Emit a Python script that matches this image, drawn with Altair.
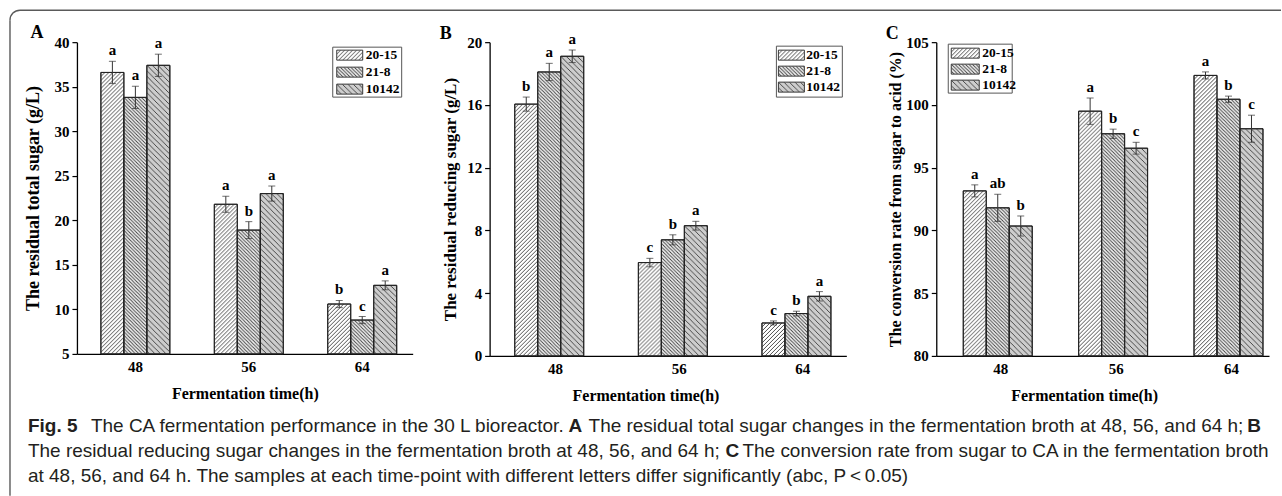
import base64
import altair as alt
import pandas as pd

times = ["48", "56", "64"]
strains = ["20-15", "21-8", "10142"]

# Panel A: residual total sugar (g/L)
a_mean_20_15 = [36.6, 21.8, 10.6]
a_mean_21_8 = [33.8, 18.9, 8.8]
a_mean_10142 = [37.4, 23.0, 12.7]
a_err_20_15 = [1.25, 0.9, 0.4]
a_err_21_8 = [1.25, 0.95, 0.4]
a_err_10142 = [1.25, 0.85, 0.5]
a_let_20_15 = ["a", "a", "b"]
a_let_21_8 = ["a", "b", "c"]
a_let_10142 = ["a", "a", "a"]

# Panel B: residual reducing sugar (g/L)
b_mean_20_15 = [16.05, 5.95, 2.1]
b_mean_21_8 = [18.1, 7.4, 2.7]
b_mean_10142 = [19.1, 8.3, 3.8]
b_err_20_15 = [0.45, 0.27, 0.13]
b_err_21_8 = [0.55, 0.32, 0.15]
b_err_10142 = [0.4, 0.28, 0.3]
b_let_20_15 = ["b", "c", "c"]
b_let_21_8 = ["a", "b", "b"]
b_let_10142 = ["a", "a", "a"]

# Panel C: conversion rate from sugar to acid (%)
c_mean_20_15 = [93.15, 99.5, 102.35]
c_mean_21_8 = [91.8, 97.7, 100.45]
c_mean_10142 = [90.35, 96.55, 98.1]
c_err_20_15 = [0.48, 1.05, 0.28]
c_err_21_8 = [1.08, 0.37, 0.25]
c_err_10142 = [0.8, 0.47, 1.08]
c_let_20_15 = ["a", "a", "a"]
c_let_21_8 = ["ab", "b", "b"]
c_let_10142 = ["b", "c", "c"]

x_title = "Fermentation time(h)"
caption_l1 = ["Fig. 5", "The CA fermentation performance in the 30 L bioreactor.", "A",
              "The residual total sugar changes in the fermentation broth at 48, 56, and 64 h;", "B"]
caption_l2 = ["The residual reducing sugar changes in the fermentation broth at 48, 56, and 64 h;", "C",
              "The conversion rate from sugar to CA in the fermentation broth"]
caption_l3 = ["at 48, 56, and 64 h. The samples at each time-point with different letters differ significantly (abc, P\u2009<\u20090.05)"]

SERIF = "Liberation Serif"
SANS = "Liberation Sans"
fills = ["#ffffff", "#f4f4f4", "#cdcdcd"]


def hatch_uri(direction, s, color="#3a3a3a", w=0.9):
    if direction == "/":
        d = f"M0,{s} L{s},0 M{-s/2},{s/2} L{s/2},{-s/2} M{s/2},{1.5*s} L{1.5*s},{s/2}"
    else:
        d = f"M0,0 L{s},{s} M{-s/2},{s/2} L{s/2},{1.5*s} M{s/2},{-s/2} L{1.5*s},{s/2}"
    svg = ("<svg xmlns='http://www.w3.org/2000/svg' width='100%' height='100%'>"
           f"<defs><pattern id='h' patternUnits='userSpaceOnUse' width='{s}' height='{s}'>"
           f"<path d='{d}' stroke='{color}' stroke-width='{w}' fill='none'/></pattern></defs>"
           "<rect width='100%' height='100%' fill='url(#h)'/></svg>")
    return "data:image/svg+xml;base64," + base64.b64encode(svg.encode()).decode()


uris = [hatch_uri("/", 4), hatch_uri("\\", 3.5), hatch_uri("\\", 5.5)]


def make_df(means, errs, lets):
    rows = []
    for s, m, e, l in zip(strains, means, errs, lets):
        for t, mv, ev, lv in zip(times, m, e, l):
            rows.append({"time": t, "strain": s, "mean": mv, "err": ev, "letter": lv})
    return pd.DataFrame(rows)


def frange(a, b, step):
    out = []
    v = a
    while v <= b + 1e-9:
        out.append(round(v, 2))
        v += step
    return out


def caption_layers():
    # coordinates are page pixels, shifted to panel A's plot origin at page (77, 42)
    OX, OY = 77, 42
    one = pd.DataFrame({"k": [0]})
    out = []
    out.append(alt.Chart(one).mark_rect(opacity=0).encode(
        x=alt.value(-OX), x2=alt.value(1282 - OX), y=alt.value(-OY), y2=alt.value(496 - OY)))
    border = "#5a5a5a"
    out.append(alt.Chart(one).mark_rule(color=border, strokeWidth=1.4).encode(
        x=alt.value(20 - OX), x2=alt.value(1282 - OX), y=alt.value(10 - OY)))
    out.append(alt.Chart(one).mark_rule(color=border, strokeWidth=1.4).encode(
        x=alt.value(10 - OX), y=alt.value(20 - OY), y2=alt.value(496 - OY)))
    out.append(alt.Chart(one).mark_arc(theta=4.7124, theta2=6.2832, radius=10, radius2=10,
                                       fillOpacity=0, stroke=border, strokeWidth=1.4).encode(
        x=alt.value(20 - OX), y=alt.value(20 - OY)))
    txtcol = "#231f20"
    segs = [
        (caption_l1[0], 28, 426, "bold", "left"),
        (caption_l1[1], 91, 426, "normal", "left"),
        (caption_l1[2], 569, 426, "bold", "left"),
        (caption_l1[3], 589, 426, "normal", "left"),
        (caption_l1[4], 1262, 426, "bold", "right"),
        (caption_l2[0], 28, 451, "normal", "left"),
        (caption_l2[1], 726, 451, "bold", "left"),
        (caption_l2[2], 743, 451, "normal", "left"),
        (caption_l3[0], 28, 476, "normal", "left"),
    ]
    for t, px, py, wgt, al in segs:
        out.append(alt.Chart(pd.DataFrame({"t": [t]})).mark_text(
            font=SANS, fontSize=19, fontWeight=wgt, color=txtcol, align=al, baseline="middle").encode(
            x=alt.value(px - OX), y=alt.value(py - OY), text="t:N"))
    return out


def panel(df, cfg, extra=()):
    base = alt.Chart(df).transform_calculate(
        lo="datum.mean - datum.err", hi="datum.mean + datum.err")
    major = cfg["major"]
    xax = alt.Axis(labelAngle=0, ticks=False, tickSize=0, domainColor="black", domainWidth=1.3,
                   labelFont=SERIF, labelFontWeight="bold", labelFontSize=15, labelColor="black",
                   labelPadding=6, titleFont=SERIF, titleFontWeight="bold", titleFontSize=16,
                   titleColor="black", titleX=cfg["xtx"], titleY=40, titleBaseline="middle")
    yax = alt.Axis(values=cfg["yvals"], grid=False, labelOverlap=False,
                   labelExpr=f"datum.value % {major} === 0 ? datum.label : ''",
                   tickSize={"condition": {"test": f"datum.value % {major} === 0", "value": 5}, "value": 3},
                   domainColor="black", tickColor="black", domainWidth=1.3, tickWidth=1.2,
                   labelFont=SERIF, labelFontWeight="bold", labelFontSize=15, labelColor="black",
                   labelPadding=3, titleFont=SERIF, titleFontWeight="bold",
                   titleFontSize=cfg["ytfs"], titleColor="black", titleX=cfg["ytx"],
                   titleBaseline="middle")
    x = alt.X("time:N", sort=times, title=x_title,
              scale=alt.Scale(paddingInner=cfg["pi"], paddingOuter=cfg["po"], align=cfg["al"]),
              axis=xax)
    xs = alt.X("time:N", sort=times)
    xo = alt.XOffset("strain:N", sort=strains,
                     scale=alt.Scale(domain=strains, paddingInner=0, paddingOuter=0))
    y = alt.Y("mean:Q", title=cfg["ytitle"],
              scale=alt.Scale(domain=cfg["dom"], nice=False, zero=False), axis=yax)
    ybase = alt.datum(cfg["dom"][0])

    layers = []
    layers.append(base.mark_bar(stroke="#222222", strokeWidth=1).encode(
        x=x, xOffset=xo, y=y, y2=ybase,
        color=alt.Color("strain:N", scale=alt.Scale(domain=strains, range=fills), legend=None)))
    for s, u in zip(strains, uris):
        layers.append(base.transform_filter(alt.datum.strain == s).mark_image(aspect=False).encode(
            x=xs, xOffset=xo, y=alt.Y("mean:Q"), y2=ybase, url=alt.value(u)))
    layers.append(base.mark_bar(fillOpacity=0, stroke="#222222", strokeWidth=1).encode(
        x=xs, xOffset=xo, y=alt.Y("mean:Q"), y2=ybase))
    layers.append(base.mark_rule(color="#333333", strokeWidth=1).encode(
        x=xs, xOffset=xo, y=alt.Y("lo:Q"), y2="hi:Q"))
    layers.append(base.mark_tick(color="#333333", thickness=1, size=7).encode(
        x=xs, xOffset=xo, y=alt.Y("hi:Q")))
    layers.append(base.mark_tick(color="#333333", thickness=1, size=7).encode(
        x=xs, xOffset=xo, y=alt.Y("lo:Q")))
    layers.append(base.mark_text(font=SERIF, fontWeight="bold", fontSize=15, color="black",
                                 baseline="bottom", dy=-3).encode(
        x=xs, xOffset=xo, y=alt.Y("hi:Q"), text="letter:N"))

    # panel letter
    lx, ly = cfg["letter_pos"]
    layers.append(alt.Chart(pd.DataFrame({"p": [cfg["letter"]]})).mark_text(
        font=SERIF, fontWeight="bold", fontSize=18, color="black", baseline="middle", align="center").encode(
        x=alt.value(lx), y=alt.value(ly), text="p:N"))

    # custom legend
    lg = cfg["legend"]
    layers.append(alt.Chart(pd.DataFrame({"k": [0]})).mark_rect(
        fill="white", stroke="#555555", strokeWidth=1).encode(
        x=alt.value(lg["box"][0]), x2=alt.value(lg["box"][1]),
        y=alt.value(lg["box"][2]), y2=alt.value(lg["box"][3])))
    for i, (s, fcol, u) in enumerate(zip(strains, fills, uris)):
        yc = lg["rows"][i]
        one = pd.DataFrame({"strain": [s]})
        layers.append(alt.Chart(one).mark_rect(fill=fcol, stroke="#222222", strokeWidth=0.9).encode(
            x=alt.value(lg["sw"][0]), x2=alt.value(lg["sw"][1]),
            y=alt.value(yc - 5), y2=alt.value(yc + 5)))
        layers.append(alt.Chart(one).mark_image(aspect=False).encode(
            x=alt.value(lg["sw"][0]), x2=alt.value(lg["sw"][1]),
            y=alt.value(yc - 5), y2=alt.value(yc + 5), url=alt.value(u)))
        layers.append(alt.Chart(one).mark_text(
            font=SERIF, fontWeight="bold", fontSize=13.5, color="black", align="left", baseline="middle").encode(
            x=alt.value(lg["tx"]), y=alt.value(yc), text="strain:N"))

    layers.extend(extra)
    return alt.layer(*layers).properties(width=cfg["w"], height=cfg["h"])


cfgA = dict(w=336, h=312, dom=[5, 40], yvals=frange(5, 40, 2.5), major=5,
            ytitle="The residual total sugar (g/L)", ytfs=18, ytx=-43,
            pi=0.392, po=0.176, al=0.6, xtx=168, letter="A", letter_pos=(-40, -9),
            legend=dict(box=(256, 325, 5, 55), sw=(260, 286), tx=289, rows=[13, 30, 47]))
cfgB = dict(w=357, h=314, dom=[0, 20], yvals=frange(0, 20, 2), major=4,
            ytitle="The residual reducing sugar (g/L)", ytfs=17, ytx=-39,
            pi=0.34, po=0.113, al=0.9, xtx=156, letter="B", letter_pos=(-44, -8),
            legend=dict(box=(287, 353, 4, 55), sw=(289, 315), tx=317, rows=[13, 29, 45]))
cfgC = dict(w=333, h=314, dom=[80, 105], yvals=frange(80, 105, 2.5), major=5,
            ytitle="The conversion rate from sugar to acid (%)", ytfs=16, ytx=-41,
            pi=0.35, po=0.117, al=1.0, xtx=148, letter="C", letter_pos=(-44, -8),
            legend=dict(box=(12, 76, 2, 51), sw=(15, 43), tx=46, rows=[11, 27, 43]))

pA = panel(make_df([a_mean_20_15, a_mean_21_8, a_mean_10142], [a_err_20_15, a_err_21_8, a_err_10142],
                   [a_let_20_15, a_let_21_8, a_let_10142]), cfgA, extra=caption_layers())
pB = panel(make_df([b_mean_20_15, b_mean_21_8, b_mean_10142], [b_err_20_15, b_err_21_8, b_err_10142],
                   [b_let_20_15, b_let_21_8, b_let_10142]), cfgB)
pC = panel(make_df([c_mean_20_15, c_mean_21_8, c_mean_10142], [c_err_20_15, c_err_21_8, c_err_10142],
                   [c_let_20_15, c_let_21_8, c_let_10142]), cfgC)

inner = alt.hconcat(pB, pC, spacing=90, bounds="flush")
chart = alt.hconcat(pA, inner, spacing=77, bounds="flush").properties(
    padding=0, background="white").configure_view(strokeWidth=0)

chart.save("out.html", embed_options={"renderer": "svg", "actions": False})
